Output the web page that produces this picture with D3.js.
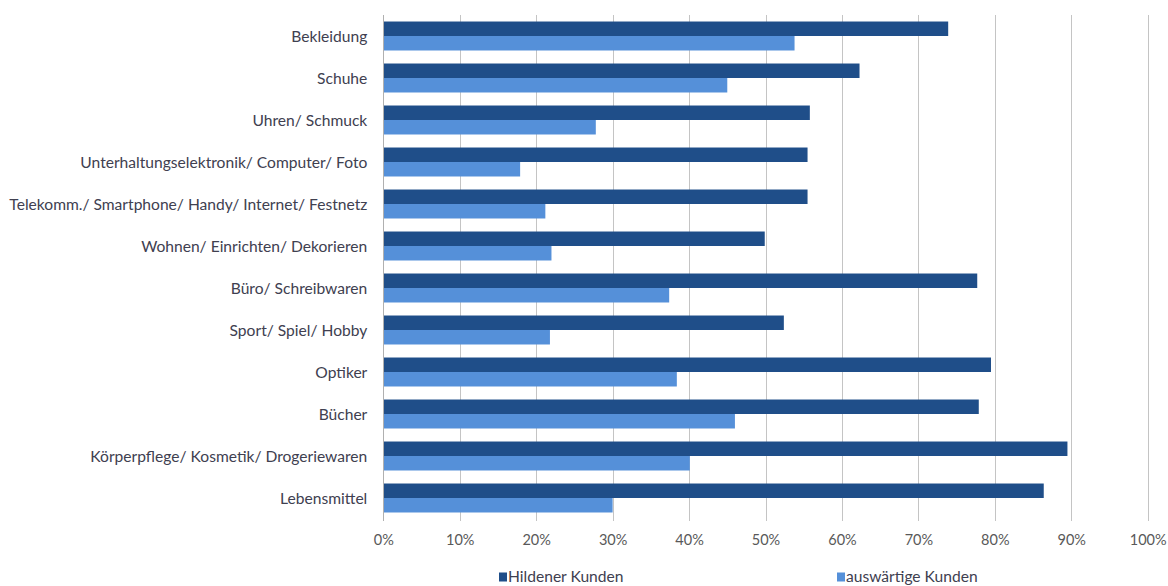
<!DOCTYPE html>
<html>
<head>
<meta charset="utf-8">
<script src="https://cdn.jsdelivr.net/npm/d3@7/dist/d3.min.js"></script>
<style>
  html, body { margin: 0; padding: 0; background: #fff; }
  svg { display: block; }
  text { font-family: Lato, "Open Sans", sans-serif; }
</style>
</head>
<body>
<svg id="chart" width="1168" height="586"></svg>
<script>
// Sortiments-Kategorien (von oben nach unten)
const categories = [
  "Bekleidung",
  "Schuhe",
  "Uhren/ Schmuck",
  "Unterhaltungselektronik/ Computer/ Foto",
  "Telekomm./ Smartphone/ Handy/ Internet/ Festnetz",
  "Wohnen/ Einrichten/ Dekorieren",
  "Büro/ Schreibwaren",
  "Sport/ Spiel/ Hobby",
  "Optiker",
  "Bücher",
  "Körperpflege/ Kosmetik/ Drogeriewaren",
  "Lebensmittel"
];

// Anteile in Prozent
const hildenerKunden = [73.9, 62.3, 55.8, 55.5, 55.5, 49.9, 77.7, 52.4, 79.5, 77.9, 89.5, 86.4];
const auswaertigeKunden = [53.8, 45.0, 27.8, 17.9, 21.2, 22.0, 37.4, 21.8, 38.4, 46.0, 40.1, 30.0];

const seriesNames = ["Hildener Kunden", "auswärtige Kunden"];
const seriesColors = ["#1f4e89", "#5590d9"];
const tickValues = [0, 10, 20, 30, 40, 50, 60, 70, 80, 90, 100];

(function () {
const svg = d3.select("#chart");

const plotLeft = 383.3, plotRight = 1147.7, plotTop = 15, plotBottom = 519;

const x = d3.scaleLinear().domain([0, 100]).range([plotLeft, plotRight]);
const y = d3.scaleBand().domain(categories).range([plotTop, plotBottom])
  .paddingInner(0.31).paddingOuter(0.155);
const ySub = d3.scaleBand().domain(seriesNames).range([0, y.bandwidth()]);

// vertical gridlines
svg.append("g")
  .selectAll("line")
  .data(tickValues.slice(1))
  .join("line")
  .attr("x1", d => Math.round(x(d)) + 0.5)
  .attr("x2", d => Math.round(x(d)) + 0.5)
  .attr("y1", plotTop)
  .attr("y2", plotBottom + 2)
  .attr("stroke", "#c4c4c4")
  .attr("stroke-width", 1);

// x tick labels
const xAxis = d3.axisBottom(x).tickValues(tickValues).tickFormat(d => d + "%").tickSize(0).tickPadding(0);
const gx = svg.append("g").attr("transform", `translate(0,${plotBottom + 16})`).call(xAxis);
gx.select(".domain").remove();
gx.selectAll("text")
  .attr("dy", "0.71em")
  .attr("fill", "#595959")
  .style("font-size", "14.5px")
  .style("font-family", "Lato, sans-serif");

// bars
const rows = categories.map((c, i) => ({ cat: c, vals: [hildenerKunden[i], auswaertigeKunden[i]] }));
const groups = svg.append("g").selectAll("g")
  .data(rows)
  .join("g")
  .attr("transform", d => `translate(0,${y(d.cat)})`);

groups.selectAll("rect")
  .data(d => d.vals.map((v, k) => ({ v, k })))
  .join("rect")
  .attr("x", x(0))
  .attr("y", d => ySub(seriesNames[d.k]))
  .attr("width", d => x(d.v) - x(0))
  .attr("height", ySub.bandwidth())
  .attr("fill", d => seriesColors[d.k]);

// category axis line
svg.append("line")
  .attr("x1", Math.round(x(0)) + 0.5).attr("x2", Math.round(x(0)) + 0.5)
  .attr("y1", plotTop).attr("y2", plotBottom + 2)
  .attr("stroke", "#b0b0b0");

// category labels
const yAxis = d3.axisLeft(y).tickSize(0).tickPadding(16);
const gy = svg.append("g").attr("transform", `translate(${x(0)},0)`).call(yAxis);
gy.select(".domain").remove();
gy.selectAll("text")
  .attr("dy", "0.4em")
  .attr("fill", "#404050")
  .style("font-size", "15.6px")
  .style("font-family", "Lato, sans-serif");

// legend
const legendX = [499, 837];
const legend = svg.append("g").selectAll("g")
  .data(seriesNames)
  .join("g")
  .attr("transform", (d, i) => `translate(${legendX[i]},577)`);
legend.append("rect")
  .attr("x", 0).attr("y", -4.5)
  .attr("width", 8).attr("height", 9)
  .attr("fill", (d, i) => seriesColors[i]);
legend.append("text")
  .attr("x", 9).attr("y", 0)
  .attr("dy", "0.35em")
  .attr("fill", "#404050")
  .style("font-size", "15.6px")
  .text(d => d);
})();
</script>
</body>
</html>
